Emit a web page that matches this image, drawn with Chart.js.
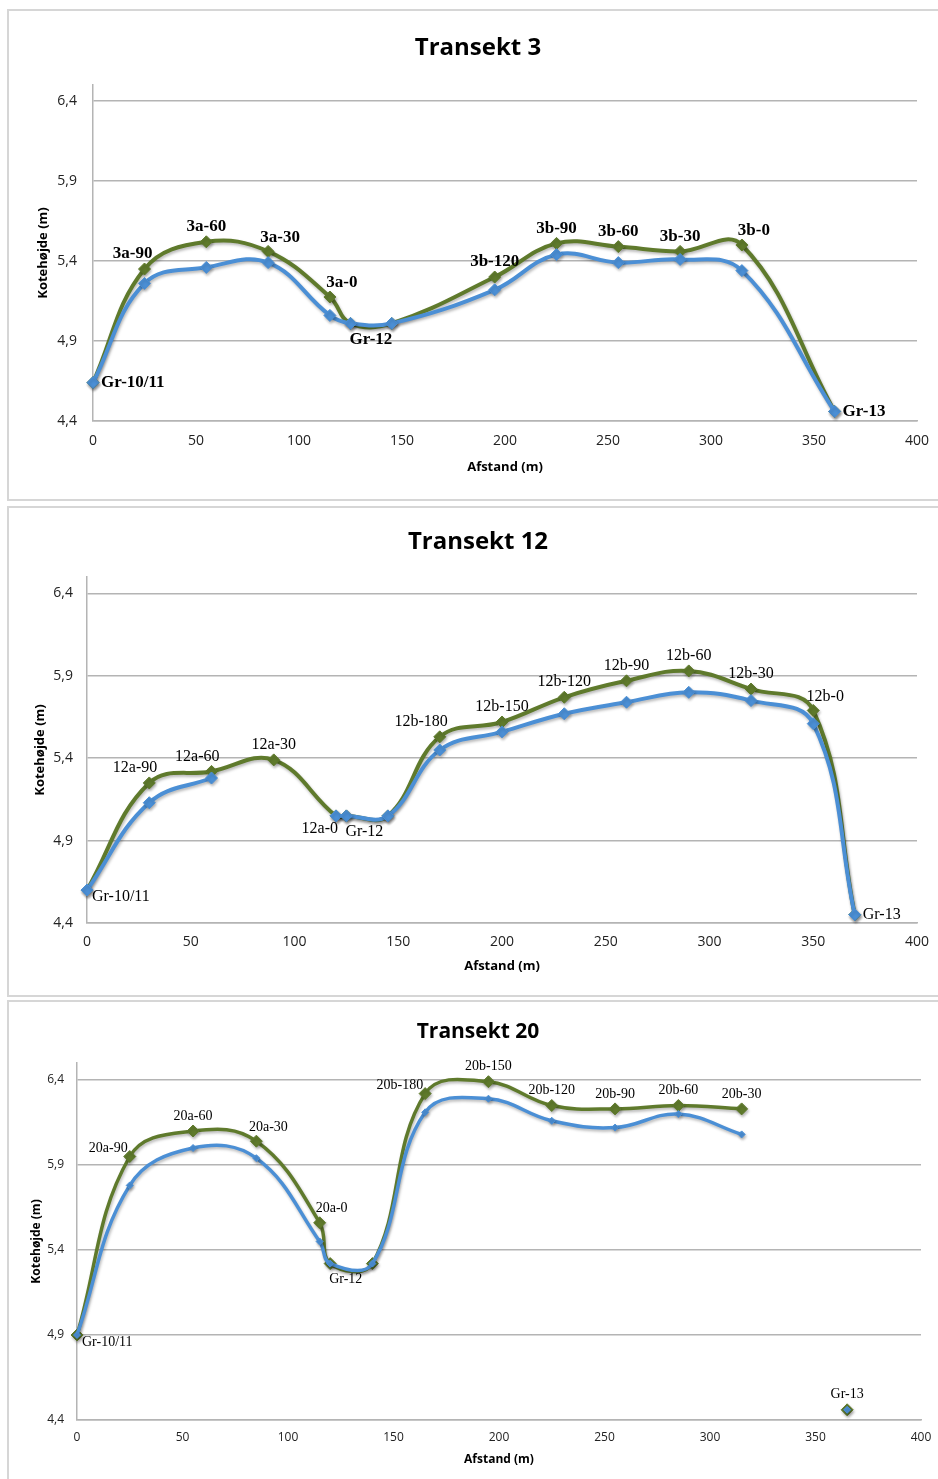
<!DOCTYPE html>
<html>
<head>
<meta charset="utf-8">
<script src="https://cdn.jsdelivr.net/npm/chart.js@4.4.1/dist/chart.umd.min.js"></script>
<style>
  html, body { margin: 0; padding: 0; background: #fff; overflow: hidden; }
  #page { position: relative; width: 938px; height: 1479px; overflow: hidden; }
  .panel { position: absolute; left: 7px; width: 960px; border: 2px solid #d6d6d6; box-sizing: border-box; }
  canvas { position: absolute; left: 7px; }
</style>
</head>
<body>
<div id="page">
  <div class="panel" style="top:9px;height:492px"></div>
  <div class="panel" style="top:506px;height:491px"></div>
  <div class="panel" style="top:1000px;height:520px"></div>
  <canvas id="c3" width="942" height="490" style="top:10px"></canvas>
  <canvas id="c12" width="942" height="488" style="top:507px"></canvas>
  <canvas id="c20" width="942" height="478" style="top:1001px"></canvas>
</div>
<script>
// axis ticks
const xTicks = [0, 50, 100, 150, 200, 250, 300, 350, 400];
const yTicks = [4.4, 4.9, 5.4, 5.9, 6.4];
const yTickLabels = ['4,4', '4,9', '5,4', '5,9', '6,4'];

// Transekt 3
const t3Dist = [0, 25, 55, 85, 115, 125, 145, 195, 225, 255, 285, 315, 360];
const t3Upper = [4.64, 5.35, 5.52, 5.46, 5.175, 5.01, 5.01, 5.30, 5.51, 5.49, 5.46, 5.50, 4.46];
const t3Lower = [4.64, 5.26, 5.36, 5.39, 5.06, 5.01, 5.01, 5.22, 5.44, 5.39, 5.41, 5.34, 4.46];
const t3Names = ['Gr-10/11', '3a-90', '3a-60', '3a-30', '3a-0', 'Gr-12', '', '3b-120', '3b-90', '3b-60', '3b-30', '3b-0', 'Gr-13'];
const t3Anchor = ['e', 'nw', 'n', 'ne', 'ne', 'se', '', 'n', 'n', 'n', 'n', 'ne', 'e'];

// Transekt 12
const t12Dist = [0, 30, 60, 90, 120, 125, 145, 170, 200, 230, 260, 290, 320, 350, 370];
const t12Upper = [4.60, 5.25, 5.32, 5.39, 5.05, 5.05, 5.05, 5.53, 5.62, 5.77, 5.87, 5.93, 5.82, 5.69, 4.45];
const t12Lower = [4.60, 5.13, 5.28, null, 5.05, 5.05, 5.05, 5.45, 5.56, 5.67, 5.74, 5.80, 5.75, 5.61, 4.45];
const t12Names = ['Gr-10/11', '12a-90', '12a-60', '12a-30', '12a-0', 'Gr-12', '', '12b-180', '12b-150', '12b-120', '12b-90', '12b-60', '12b-30', '12b-0', 'Gr-13'];
const t12Anchor = ['es', 'nw', 'nw', 'n', 'sw', 'se', '', 'nw', 'n', 'n', 'n', 'n', 'n', 'ne', 'e'];

// Transekt 20
const t20Dist = [0, 25, 55, 85, 115, 120, 140, 165, 195, 225, 255, 285, 315, 340, 365];
const t20Upper = [4.90, 5.95, 6.10, 6.04, 5.56, 5.32, 5.32, 6.32, 6.39, 6.25, 6.23, 6.25, 6.23, null, 4.46];
const t20Lower = [4.90, 5.78, 6.00, 5.94, 5.45, 5.32, 5.32, 6.21, 6.29, 6.16, 6.12, 6.20, 6.08, null, 4.46];
const t20Names = ['Gr-10/11', '20a-90', '20a-60', '20a-30', '20a-0', 'Gr-12', '', '20b-180', '20b-150', '20b-120', '20b-90', '20b-60', '20b-30', '', 'Gr-13'];
const t20Anchor = ['es', 'w', 'n', 'ne', 'ne', 'se', '', 'w', 'n', 'n', 'n', 'n', 'n', '', 'n'];

const GREEN = '#5f7a2c';
const BLUE = '#4b8fd5';
const SANS = '"Open Sans", "Noto Sans", sans-serif';

const anchors = {
    n:  { align: 'center', dx: 0, dy: -15 },
    ne: { align: 'center', dx: 12, dy: -14 },
    nw: { align: 'right', dx: 8, dy: -15 },
    w:  { align: 'right', dx: -2, dy: -8 },
    e:  { align: 'left', dx: 8, dy: 0 },
    es: { align: 'left', dx: 5, dy: 7 },
    se: { align: 'left', dx: -1, dy: 16 },
    sw: { align: 'right', dx: 2, dy: 13 },
};

const pointLabels = {
    id: 'pointLabels',
    afterDatasetsDraw(chart, args, opts) {
        if (!opts.names) return;
        const meta = chart.getDatasetMeta(opts.datasetIndex);
        const ctx = chart.ctx;
        ctx.save();
        ctx.font = opts.font;
        ctx.fillStyle = '#000';
        ctx.textBaseline = 'middle';
        meta.data.forEach((pt, i) => {
            const text = opts.names[i];
            if (!text || pt.skip) return;
            const a = anchors[opts.anchors[i]];
            ctx.textAlign = a.align;
            ctx.fillText(text, pt.x + a.dx, pt.y + a.dy);
        });
        ctx.restore();
    }
};

const lineShadow = {
    id: 'lineShadow',
    beforeDatasetDraw(chart) {
        const c = chart.ctx;
        c.save();
        c.shadowColor = 'rgba(0,0,0,0.28)';
        c.shadowBlur = 3;
        c.shadowOffsetX = 1;
        c.shadowOffsetY = 2;
    },
    afterDatasetDraw(chart) {
        chart.ctx.restore();
    }
};

function toPoints(xs, ys) {
    return xs.map((x, i) => ({ x: x, y: ys[i] }));
}

function makeChart(id, title, dist, upper, lower, names, anchorList, g) {
    const canvas = document.getElementById(id);
    const W = canvas.width, H = canvas.height;
    const titleLh = g.titleSize * 1.2;
    const axisLh = g.axisTitleSize * 1.2;
    const tickLh = g.tickSize * 1.2;
    // left padding chosen so the chart title is centred where the original had it
    const padLeft = 2 * g.titleX - g.plotRight;
    return new Chart(canvas, {
        type: 'line',
        data: {
            datasets: [{
                label: 'lower',
                data: toPoints(dist, lower),
                borderColor: BLUE,
                backgroundColor: BLUE,
                borderWidth: g.lineWidth,
                pointStyle: 'rectRot',
                pointRadius: g.blueRadius,
                pointBorderWidth: 1,
                tension: 0.4,
                spanGaps: false,
                clip: false,
            }, {
                label: 'upper',
                data: toPoints(dist, upper),
                borderColor: GREEN,
                backgroundColor: GREEN,
                borderWidth: g.lineWidth,
                pointStyle: 'rectRot',
                pointRadius: g.greenRadius,
                pointBorderWidth: 1,
                tension: 0.4,
                spanGaps: false,
                clip: false,
            }]
        },
        options: {
            responsive: false,
            animation: false,
            layout: { padding: { left: padLeft, top: 0, bottom: 0, right: W - g.plotRight } },
            plugins: {
                legend: { display: false },
                tooltip: { enabled: false },
                title: {
                    display: true,
                    text: title,
                    color: '#000',
                    font: { family: SANS, size: g.titleSize, weight: 'bold' },
                    padding: { top: g.titleY - titleLh / 2, bottom: g.plotTop - g.titleY - titleLh / 2 },
                },
                pointLabels: { names: names, anchors: anchorList, datasetIndex: 1, font: g.labelFont },
            },
            scales: {
                x: {
                    type: 'linear',
                    min: 0,
                    max: 400,
                    afterBuildTicks: (scale) => { scale.ticks = xTicks.map(v => ({ value: v })); },
                    afterFit: (scale) => { scale.height = H - g.plotBottom; },
                    grid: { display: false, drawTicks: false },
                    border: { display: true, color: '#b4b4b4', width: 1.5 },
                    ticks: {
                        color: '#222',
                        font: { family: SANS, size: g.tickSize },
                        padding: g.xTickBelow - tickLh / 2,
                        maxRotation: 0,
                    },
                    title: {
                        display: true,
                        text: 'Afstand (m)',
                        color: '#000',
                        font: { family: SANS, size: g.axisTitleSize, weight: 'bold' },
                        padding: { top: 0, bottom: (H - g.plotBottom) - g.xTitleBelow - axisLh / 2 },
                    },
                },
                y: {
                    min: 4.4,
                    max: 6.5,
                    afterBuildTicks: (scale) => { scale.ticks = yTicks.map(v => ({ value: v })); },
                    afterFit: (scale) => { scale.width = g.plotLeft - padLeft; },
                    grid: { color: '#b4b4b4', lineWidth: 1.5, drawTicks: false },
                    border: { display: true, color: '#b4b4b4', width: 1.5 },
                    ticks: {
                        color: '#222',
                        font: { family: SANS, size: g.tickSize },
                        padding: g.plotLeft - g.yTickRight,
                        callback: (v, i) => yTickLabels[i],
                    },
                    title: {
                        display: true,
                        text: 'Kotehøjde (m)',
                        color: '#000',
                        font: { family: SANS, size: g.axisTitleSize, weight: 'bold' },
                        padding: { top: g.yTitleX - padLeft - axisLh / 2, bottom: 0 },
                    },
                },
            },
        },
        plugins: [lineShadow, pointLabels],
    });
}

makeChart('c3', 'Transekt 3', t3Dist, t3Upper, t3Lower, t3Names, t3Anchor, {
    plotLeft: 86, plotRight: 910, plotTop: 75, plotBottom: 411,
    titleX: 471, titleY: 38, titleSize: 24, yTitleX: 36, yTickRight: 70,
    xTickBelow: 20, xTitleBelow: 46, tickSize: 14, axisTitleSize: 13,
    labelFont: 'bold 17px "Liberation Serif"', lineWidth: 4, greenRadius: 6, blueRadius: 6,
});

makeChart('c12', 'Transekt 12', t12Dist, t12Upper, t12Lower, t12Names, t12Anchor, {
    plotLeft: 80, plotRight: 910, plotTop: 70, plotBottom: 416,
    titleX: 471, titleY: 35, titleSize: 24, yTitleX: 33, yTickRight: 66,
    xTickBelow: 19, xTitleBelow: 43, tickSize: 14, axisTitleSize: 13,
    labelFont: '16px "Liberation Serif"', lineWidth: 4, greenRadius: 6, blueRadius: 6,
});

makeChart('c20', 'Transekt 20', t20Dist, t20Upper, t20Lower, t20Names, t20Anchor, {
    plotLeft: 70, plotRight: 914, plotTop: 62, plotBottom: 419,
    titleX: 471, titleY: 31, titleSize: 21, yTitleX: 30, yTickRight: 57,
    xTickBelow: 18, xTitleBelow: 40, tickSize: 12, axisTitleSize: 12,
    labelFont: '14px "Liberation Serif"', lineWidth: 3.5, greenRadius: 6, blueRadius: 3.5,
});
</script>
</body>
</html>
